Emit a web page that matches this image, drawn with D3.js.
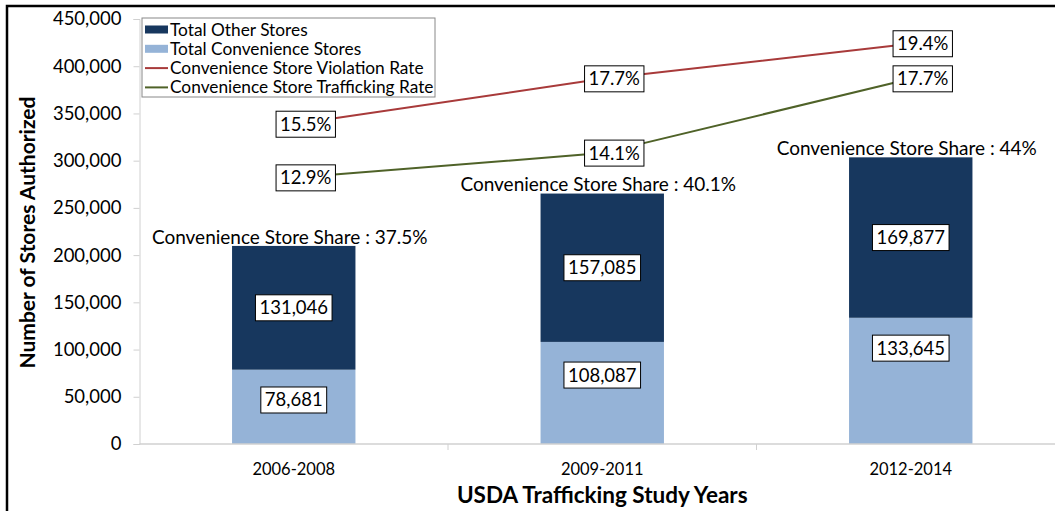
<!DOCTYPE html>
<html>
<head>
<meta charset="utf-8">
<script src="https://cdn.jsdelivr.net/npm/d3@7"></script>
<style>
body {margin: 0; background: #fff}
text {font-family: Lato, "Open Sans", sans-serif; fill: #000}
</style>
</head>
<body>
<div id="canvas"></div>
<script>
// Data
var periods = ["2006-2008", "2009-2011", "2012-2014"]
var convenience_stores = [78681, 108087, 133645]
var other_stores = [131046, 157085, 169877]
var violation_rate = [15.5, 17.7, 19.4]
var trafficking_rate = [12.9, 14.1, 17.7]
var conv_share = ["37.5%", "40.1%", "44%"]
var y_ticks = [0, 50000, 100000, 150000, 200000, 250000, 300000, 350000, 400000, 450000]
var legend_labels = ["Total Other Stores", "Total Convenience Stores", "Convenience Store Violation Rate", "Convenience Store Trafficking Rate"]

// Display variables
var total_width = 1055, total_height = 511
var plot = {left: 139.5, top: 19, bottom: 444, step: 308.5}
var dark_colour = "#17375e"
var light_colour = "#95b3d7"
var violation_colour = "#a83a3a"
var trafficking_colour = "#4f6228"
var axis_colour = "#d0d0d0"
// where the light segment labels sit (in stores), they were moved by hand in the original
var conv_label_at = [46600, 73000, 101500]

var svg = d3.select("#canvas").append("svg").attr("width", total_width).attr("height", total_height)

// Frame round the chart (only top and left show in the picture)
svg.append("rect").attr("x", 7).attr("y", 6).attr("width", 1200).attr("height", 800)
    .attr("fill", "none").attr("stroke", "#000").attr("stroke-width", 2.5)

// Scales
var x = d3.scaleBand().domain(periods).range([plot.left, plot.left + 3 * plot.step]).padding(0)
var y = d3.scaleLinear().domain([0, 450000]).range([plot.bottom, plot.top])
var y2 = d3.scaleLinear().domain([0, 20.6]).range([plot.bottom, plot.top]) // hidden rate axis
var bar_w = x.bandwidth() * 0.4
var cx = d => x(d) + x.bandwidth() / 2

// Y axis
var y_axis = svg.append("g").attr("transform", `translate(${plot.left},0)`)
    .call(d3.axisLeft(y).tickValues(y_ticks).tickSize(6).tickPadding(12).tickFormat(d3.format(",")))
y_axis.select(".domain").attr("stroke", axis_colour)
y_axis.selectAll(".tick line").attr("stroke", axis_colour)
y_axis.selectAll(".tick text").style("font-size", "18.5px").attr("fill", "#000")

svg.append("text")
    .attr("transform", `translate(28,${(plot.top + plot.bottom) / 2 + 1}) rotate(-90)`)
    .attr("text-anchor", "middle").attr("dy", "0.35em")
    .style("font-size", "21px").style("font-weight", "bold")
    .text("Number of Stores Authorized")

// Stacked bars
var bars = svg.append("g")
bars.selectAll(".conv").data(periods).enter().append("rect")
    .attr("x", d => cx(d) - bar_w / 2).attr("width", bar_w)
    .attr("y", (d, i) => y(convenience_stores[i]))
    .attr("height", (d, i) => y(0) - y(convenience_stores[i]))
    .attr("fill", light_colour)
bars.selectAll(".other").data(periods).enter().append("rect")
    .attr("x", d => cx(d) - bar_w / 2).attr("width", bar_w)
    .attr("y", (d, i) => y(convenience_stores[i] + other_stores[i]))
    .attr("height", (d, i) => y(convenience_stores[i]) - y(convenience_stores[i] + other_stores[i]))
    .attr("fill", dark_colour)

// X axis
svg.append("line").attr("x1", plot.left).attr("x2", total_width + 20)
    .attr("y1", plot.bottom).attr("y2", plot.bottom).attr("stroke", axis_colour).attr("stroke-width", 1.5)
svg.selectAll(".xdiv").data(periods.slice(1)).enter().append("line")
    .attr("x1", d => x(d)).attr("x2", d => x(d))
    .attr("y1", plot.bottom).attr("y2", plot.bottom + 6).attr("stroke", axis_colour)
svg.selectAll(".xlab").data(periods).enter().append("text")
    .attr("x", d => cx(d)).attr("y", 469).attr("text-anchor", "middle").attr("dy", "0.35em")
    .style("font-size", "16.5px").text(d => d)
svg.append("text").attr("x", x(periods[1]) + x.bandwidth() / 2).attr("y", 495)
    .attr("text-anchor", "middle").attr("dy", "0.35em")
    .style("font-size", "22.5px").style("font-weight", "bold")
    .text("USDA Trafficking Study Years")

// Rate lines
var line = d3.line().x(d => cx(d[0])).y(d => y2(d[1]))
svg.append("path").datum(periods.map((p, i) => [p, violation_rate[i]]))
    .attr("d", line).attr("fill", "none").attr("stroke", violation_colour).attr("stroke-width", 2)
svg.append("path").datum(periods.map((p, i) => [p, trafficking_rate[i]]))
    .attr("d", line).attr("fill", "none").attr("stroke", trafficking_colour).attr("stroke-width", 2)

// Boxed labels
function box_label(px, py, txt, size) {
    var g = svg.append("g")
    var t = g.append("text").attr("x", px).attr("y", py).attr("text-anchor", "middle").attr("dy", "0.35em")
        .style("font-size", size + "px").text(txt)
    var w = t.node().getComputedTextLength()
    g.insert("rect", "text").attr("x", px - w / 2 - 4).attr("y", py - 13).attr("width", w + 8).attr("height", 26)
        .attr("fill", "#fff").attr("stroke", "#000").attr("stroke-width", 1)
}
periods.forEach(function(p, i) {
    var top = convenience_stores[i] + other_stores[i]
    box_label(cx(p), (y(convenience_stores[i]) + y(top)) / 2, d3.format(",")(other_stores[i]), 18.5)
    box_label(cx(p), y(conv_label_at[i]), d3.format(",")(convenience_stores[i]), 18.5)
    box_label(cx(p) + 12, y2(violation_rate[i]), violation_rate[i].toFixed(1) + "%", 18.5)
    box_label(cx(p) + 12, y2(trafficking_rate[i]), trafficking_rate[i].toFixed(1) + "%", 18.5)
    svg.append("text").attr("x", cx(p) - 4).attr("y", y(top) - 9).attr("dy", "0.35em")
        .attr("text-anchor", "middle").style("font-size", "19px")
        .text("Convenience Store Share : " + conv_share[i])
})

// Legend
var legend = svg.append("g").attr("transform", "translate(142,18)")
legend.append("rect").attr("width", 293).attr("height", 79)
    .attr("fill", "#fff").attr("stroke", "#888").attr("stroke-width", 1)
var leg_colours = [dark_colour, light_colour, violation_colour, trafficking_colour]
legend_labels.forEach(function(l, i) {
    var ly = 11.5 + i * 19.3
    if (i < 2) {
        legend.append("rect").attr("x", 3).attr("y", ly - 4).attr("width", 23).attr("height", 8).attr("fill", leg_colours[i])
    } else {
        legend.append("line").attr("x1", 3).attr("x2", 26).attr("y1", ly).attr("y2", ly)
            .attr("stroke", leg_colours[i]).attr("stroke-width", 2)
    }
    legend.append("text").attr("x", 28).attr("y", ly).attr("dy", "0.35em").style("font-size", "17.3px").text(l)
})
</script>
</body>
</html>
